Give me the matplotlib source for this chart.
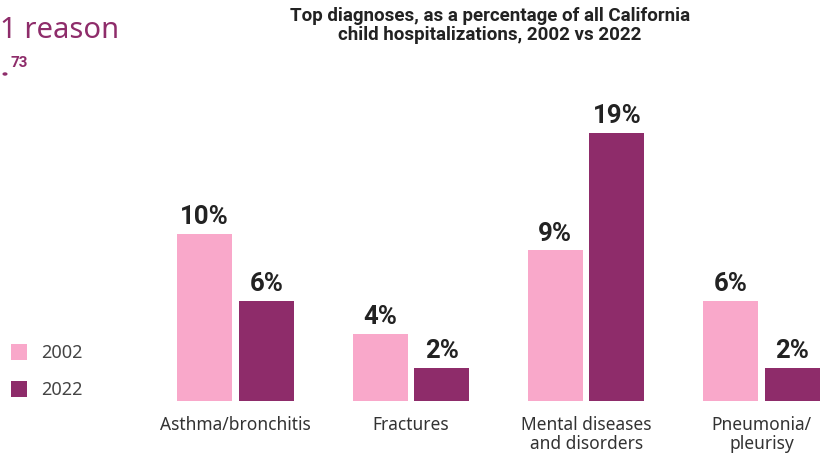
import matplotlib.pyplot as plt
from matplotlib.patches import Rectangle

plt.rcParams['font.family'] = ['Noto Sans', 'DejaVu Sans']
bold_font = ['Roboto', 'DejaVu Sans']

categories = ["Asthma/bronchitis", "Fractures", "Mental diseases\nand disorders", "Pneumonia/\npleurisy"]
pct_2002 = [10, 4, 9, 6]
pct_2022 = [6, 2, 19, 2]
years = ["2002", "2022"]

pink = "#f9a8ca"
purple = "#8e2c6a"
W, H = 830, 456

fig = plt.figure(figsize=(W / 100, H / 100), dpi=100)
ax = fig.add_axes([0, (H - 402) / H, 1, (402 - 134) / H])

px = 175.3
ax.set_xlim(-235.5 / px, (W - 235.5) / px)
top = 16
ax.set_ylim(0, top)

bw = 55 / px
off = 30.8 / px
x = list(range(len(categories)))
ax.bar([i - off for i in x], pct_2002, width=bw, color=pink)
ax.bar([i + off for i in x], pct_2022, width=bw, color=purple)

for i in x:
    for v, dx in ((pct_2002[i], -off), (pct_2022[i], off)):
        ax.annotate(f"{v}%", (i + dx, min(v, top)), xytext=(0, 4), textcoords="offset points",
                    ha="center", va="bottom", fontsize=18.5, fontweight="bold", color="#222222",
                    family=bold_font, annotation_clip=False)

ax.set_xticks(x)
ax.set_xticklabels(categories, fontsize=12.5, color="#333333", linespacing=1.05, va="top")
ax.tick_params(axis="x", length=0, pad=10)
ax.set_yticks([])
for s in ax.spines.values():
    s.set_visible(False)

fig.text(490 / W, 1 - 7 / H, "Top diagnoses, as a percentage of all California\nchild hospitalizations, 2002 vs 2022",
         ha="center", va="top", fontsize=13.5, fontweight="bold", color="#222222", linespacing=1.05,
         family=bold_font)

fig.text(0, 1 - 38 / H, "1 reason", ha="left", va="baseline", fontsize=21, color=purple)
fig.text(10 / W, 1 - 67 / H, "73", ha="left", va="baseline", fontsize=11, fontweight="bold",
         color=purple, family=bold_font)
fig.patches.append(plt.Circle((5 / W, 1 - 75 / H), 1.8 / W, transform=fig.transFigure, color=purple))

for j, (lab, col) in enumerate(zip(years, [pink, purple])):
    y0 = 361 + j * 37
    fig.patches.append(Rectangle((11 / W, 1 - y0 / H), 16 / W, 16 / H, transform=fig.transFigure,
                                 facecolor=col, edgecolor="none"))
    fig.text(41 / W, 1 - (y0 - 8) / H, lab, ha="left", va="center", fontsize=13, color="#444444")

fig.savefig("out.png", dpi=100)
